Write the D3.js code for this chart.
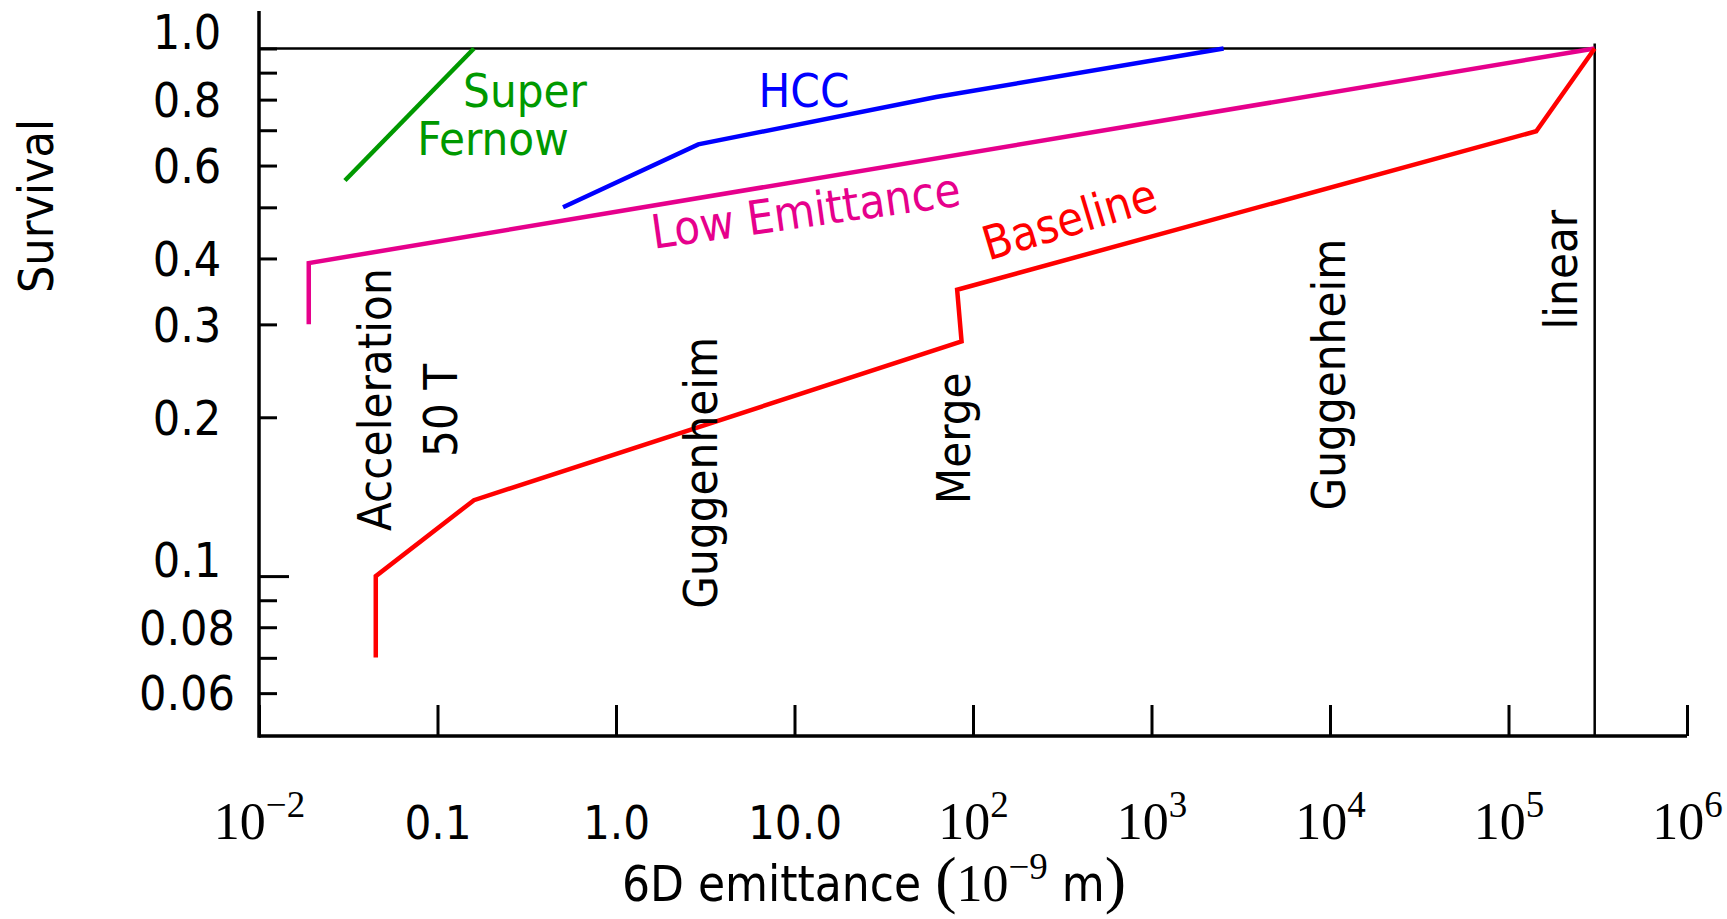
<!DOCTYPE html>
<html>
<head>
<meta charset="utf-8">
<script src="https://cdn.jsdelivr.net/npm/d3@7"></script>
<style>
  body { margin: 0; background: #fff; }
  .sans { font-family: "DejaVu Sans Condensed", "Liberation Sans Narrow", "DejaVu Sans", sans-serif; }
  .serif { font-family: "Liberation Serif", "DejaVu Serif", serif; }
</style>
</head>
<body>
<script>
// --- data ---
var superFernowX = [0.0303, 0.160],
    superFernowY = [0.562, 1.0];

var hccX = [0.505, 2.89, 62.2, 2535],
    hccY = [0.500, 0.658, 0.809, 1.0];

var lowEmitX = [0.019, 0.019, 3.04e5],
    lowEmitY = [0.30, 0.392, 1.0];

var baselineX = [0.0451, 0.0451, 0.160, 86.3, 81.5, 1.43e5, 3.04e5],
    baselineY = [0.0701, 0.1, 0.1393, 0.2784, 0.349, 0.697, 1.0];

var linearEdge = 3.04e5;   // vertical line where the "linear" stage ends

var xTickValues = [1e-2, 0.1, 1, 10, 1e2, 1e3, 1e4, 1e5, 1e6],
    xTickLabels = ["10^−2", "0.1", "1.0", "10.0", "10^2", "10^3", "10^4", "10^5", "10^6"];

var yTickValues = [1, 0.9, 0.8, 0.7, 0.6, 0.5, 0.4, 0.3, 0.2, 0.1, 0.09, 0.08, 0.07, 0.06],
    yTickLabels = ["1.0", "", "0.8", "", "0.6", "", "0.4", "0.3", "0.2", "0.1", "", "0.08", "", "0.06"];

// stage names written up the plot (baseline centre in data units)
var stageNames = ["Acceleration", "50 T", "Guggenheim", "Merge", "Guggenheim", "linear"],
    stageX = [0.055, 0.1278, 3.68, 95.9, 1.21e4, 2.41e5],
    stageY = [0.216, 0.206, 0.157, 0.1824, 0.241, 0.381];

var width = 1727,
    height = 919;

var svg = d3.select("body").append("svg")
    .attr("width", width)
    .attr("height", height);

var x = d3.scaleLog()
    .domain([1e-2, 1e6])
    .range([259, 1687]);

var y = d3.scaleLog()
    .domain([0.1, 1])
    .range([576.1, 48.5]);

var axisY = 736,
    axisTop = 11;

// x axis: ticks point up into the plot
var xAxis = d3.axisBottom(x)
    .tickValues(xTickValues)
    .tickSize(-31)
    .tickSizeOuter(0)
    .tickFormat("");

var gx = svg.append("g")
    .attr("transform", "translate(0," + axisY + ")")
    .call(xAxis);
gx.select(".domain").remove();
gx.selectAll("line").attr("stroke", "#000").attr("stroke-width", 3);

gx.selectAll(".tick").each(function(d, i) {
    var lab = xTickLabels[i];
    var t = d3.select(this).append("text")
        .attr("y", 103)
        .attr("fill", "#000")
        .attr("text-anchor", "middle");
    if (lab.indexOf("10^") === 0) {
        t.attr("class", "serif").style("font-size", "52px");
        t.append("tspan").text("10");
        t.append("tspan").attr("dy", -22).style("font-size", "37px").text(lab.slice(3));
    } else {
        t.attr("class", "sans").style("font-size", "47px").text(lab);
    }
});

svg.append("line")
    .attr("x1", x.range()[0]).attr("x2", x.range()[1])
    .attr("y1", axisY).attr("y2", axisY)
    .attr("stroke", "#000").attr("stroke-width", 3.5);

// y axis: ticks point right, labels centred at the left
var yAxis = d3.axisLeft(y)
    .tickValues(yTickValues)
    .tickSize(-18)
    .tickPadding(72)
    .tickFormat(function(d, i) { return yTickLabels[i]; });

var gy = svg.append("g")
    .attr("transform", "translate(" + x.range()[0] + ",0)")
    .call(yAxis);
gy.select(".domain").remove();
gy.selectAll("line")
    .attr("stroke", "#000").attr("stroke-width", 3)
    .attr("x2", function(d) { return d === 0.1 ? 30 : 18; });
gy.selectAll("text")
    .attr("class", "sans")
    .attr("text-anchor", "middle")
    .attr("fill", "#000")
    .style("font-size", "48px")
    // decade labels sit on top of their tick, the rest are centred
    .attr("dy", function(d) { return (d === 1 || d === 0.1) ? "0em" : "0.35em"; });

svg.append("line")
    .attr("x1", x.range()[0]).attr("x2", x.range()[0])
    .attr("y1", axisTop).attr("y2", axisY + 1.75)
    .attr("stroke", "#000").attr("stroke-width", 3.5);

// frame: survival = 1 line and the linear edge
svg.append("line")
    .attr("x1", x.range()[0]).attr("x2", x(linearEdge))
    .attr("y1", y(1)).attr("y2", y(1))
    .attr("stroke", "#000").attr("stroke-width", 2.5);
svg.append("line")
    .attr("x1", x(linearEdge)).attr("x2", x(linearEdge))
    .attr("y1", y(1) - 5).attr("y2", axisY)
    .attr("stroke", "#000").attr("stroke-width", 2.5);

// curves
var line = d3.line()
    .x(function(d) { return x(d[0]); })
    .y(function(d) { return y(d[1]); });

var series = [
    { xs: superFernowX, ys: superFernowY, color: "#009900" },
    { xs: hccX, ys: hccY, color: "#0000ff" },
    { xs: lowEmitX, ys: lowEmitY, color: "#e6008c" },
    { xs: baselineX, ys: baselineY, color: "#ff0000" }
];

svg.selectAll(".curve")
    .data(series)
    .enter().append("path")
    .attr("class", "curve")
    .attr("d", function(s) { return line(d3.zip(s.xs, s.ys)); })
    .attr("fill", "none")
    .attr("stroke", function(s) { return s.color; })
    .attr("stroke-width", 4.5)
    .attr("stroke-linejoin", "miter");

// curve names
function label(txt, px, py, angle, color) {
    svg.append("text")
        .attr("class", "sans")
        .attr("transform", "translate(" + px + "," + py + ") rotate(" + angle + ")")
        .attr("text-anchor", "middle")
        .attr("fill", color)
        .style("font-size", "47px")
        .text(txt);
}
label("Super", 525, 107, 0, "#009900");
label("Fernow", 493, 155, 0, "#009900");
label("HCC", 804, 107, 0, "#0000ff");
label("Low Emittance", 808, 227, -8, "#e6008c");
label("Baseline", 1074, 235, -16.7, "#ff0000");

// stage names, reading upward
svg.selectAll(".stage")
    .data(stageNames)
    .enter().append("text")
    .attr("class", "sans stage")
    .attr("transform", function(d, i) {
        return "translate(" + x(stageX[i]) + "," + y(stageY[i]) + ") rotate(-90)";
    })
    .attr("text-anchor", "middle")
    .attr("fill", "#000")
    .style("font-size", "47px")
    .text(function(d) { return d; });

// axis titles
svg.append("text")
    .attr("class", "sans")
    .attr("transform", "translate(53,206) rotate(-90)")
    .attr("text-anchor", "middle")
    .style("font-size", "48px")
    .text("Survival");

var xt = svg.append("text")
    .attr("class", "sans")
    .attr("x", 874)
    .attr("y", 901)
    .attr("text-anchor", "middle")
    .style("font-size", "49px");
xt.append("tspan").text("6D emittance ");
xt.append("tspan").attr("class", "serif").style("font-size", "64px").text("(");
xt.append("tspan").attr("class", "serif").style("font-size", "52px").text("10");
xt.append("tspan").attr("class", "serif").attr("dy", -22).style("font-size", "37px").text("−9");
xt.append("tspan").attr("dy", 22).text("  m");
xt.append("tspan").attr("class", "serif").style("font-size", "64px").text(")");
</script>
</body>
</html>
